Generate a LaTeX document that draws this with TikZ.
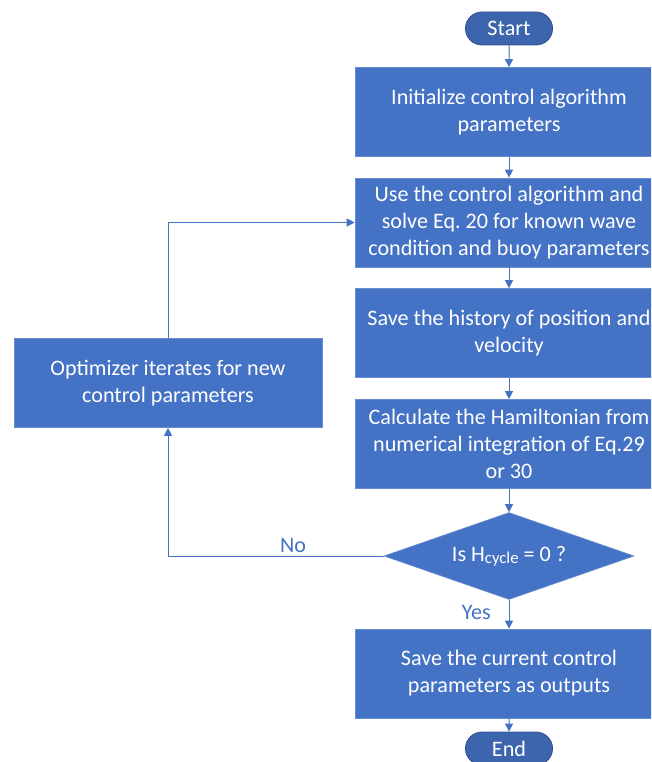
\documentclass[tikz,border=0pt]{standalone}
\usepackage{fontspec}
\setmainfont{Carlito}
\usepackage{tikz}
\usetikzlibrary{shapes.geometric,shapes.misc,arrows.meta,positioning}
\frenchspacing

\definecolor{boxblue}{HTML}{4472C4}
\definecolor{termblue}{HTML}{3C65AE}
\definecolor{termedge}{HTML}{2F528F}

\begin{document}
\begin{tikzpicture}[
    x=0.75pt, y=-0.75pt,
    procbox/.style={rectangle, fill=boxblue, draw=boxblue!80!white, line width=0.5pt, minimum width=231pt, minimum height=66.75pt, text=white, align=center, font=\fontsize{16.6}{20.25}\selectfont},
    term/.style={rounded rectangle, fill=termblue, draw=termedge, line width=0.6pt, minimum width=72pt, minimum height=24.75pt, text=white, font=\fontsize{16.6}{19}\selectfont},
    decision/.style={diamond, aspect=2.87, fill=boxblue, draw=boxblue!80!white, line width=0.5pt, minimum width=187.5pt, minimum height=65.25pt, inner sep=0pt, text=white, font=\fontsize{16.6}{19}\selectfont},
    arrow/.style={-{Triangle[width=6pt,length=6pt]}, draw=boxblue, line width=0.75pt},
    label/.style={text=boxblue, font=\fontsize{16.6}{19}\selectfont}
]
    \clip (0,0) rectangle (651,762);

    % Main column
    \node[term] (start) at (509,28.5) {Start};
    \node[procbox] (init) at (509,112) {Initialize control algorithm\\parameters};
    \node[procbox] (solve) at (509,222.5) {Use the control algorithm and\\solve Eq. 20 for known wave\\condition and buoy parameters};
    \node[procbox] (save) at (509,333) {Save the history of position and\\velocity};
    \node[procbox] (ham) at (509,444) {Calculate the Hamiltonian from\\numerical integration of Eq.29\\or 30};
    \node[decision] (check) at (509,556) {Is H\raisebox{-0.2ex}{\fontsize{12.5}{13}\selectfont cycle} = 0 ?};
    \node[procbox] (out) at (509,673.5) {Save the current control\\parameters as outputs};
    \node[term] (end) at (509,748.5) {End};

    % Optimizer
    \node[procbox] (opt) at (168,383) {Optimizer iterates for new\\control parameters};

    % Arrows
    \draw[arrow] (start) -- (init);
    \draw[arrow] (init) -- (solve);
    \draw[arrow] (solve) -- (save);
    \draw[arrow] (save) -- (ham);
    \draw[arrow] (ham) -- (check);
    \draw[arrow] (check) -- node[label, left=10pt, pos=0.45] {Yes} (out);
    \draw[arrow] (out) -- (end);

    % Loop back
    \draw[arrow] (check.west) -| node[label, above=-1pt, pos=0.21] {No} (opt.south);
    \draw[arrow] (opt.north) |- (solve.west);
\end{tikzpicture}
\end{document}
